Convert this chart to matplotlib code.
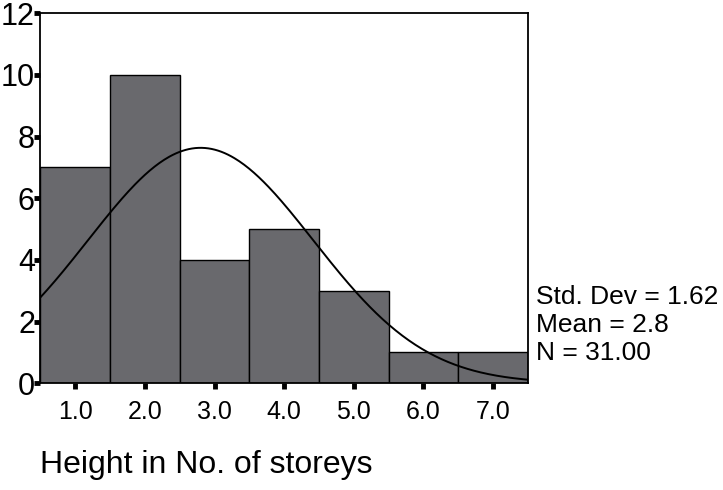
import numpy as np
import matplotlib.pyplot as plt

plt.rcParams["font.family"] = ["Liberation Sans", "DejaVu Sans"]

storeys = [1, 2, 3, 4, 5, 6, 7]
counts = [7, 10, 4, 5, 3, 1, 1]
x_ticks = [1.0, 2.0, 3.0, 4.0, 5.0, 6.0, 7.0]
y_ticks = [0, 2, 4, 6, 8, 10, 12]

std_dev = 1.62
mean = 2.8
n = 31.00

fig = plt.figure(figsize=(7.23, 4.9), dpi=100)
ax = fig.add_axes([0.056, 0.218, 0.674, 0.755])

ax.bar(storeys, counts, width=1.0, color="#69696d", edgecolor="black", linewidth=1.0)

# fitted normal curve, scaled to counts (bin width 1)
xs = np.linspace(0.5, 7.5, 300)
ys = n * np.exp(-0.5 * ((xs - mean) / std_dev) ** 2) / (std_dev * np.sqrt(2 * np.pi))
ax.plot(xs, ys, color="black", linewidth=1.4)

ax.set_xlim(0.5, 7.5)
ax.set_ylim(0, 12)
ax.set_xticks(x_ticks)
ax.set_xticklabels(["%.1f" % v for v in x_ticks], fontsize=18)
ax.set_yticks(y_ticks)
ax.set_yticklabels([str(v) for v in y_ticks], fontsize=22)
ax.tick_params(axis="both", direction="out", length=4, width=3.5, color="black")
ax.tick_params(axis="x", pad=8)
ax.tick_params(axis="y", pad=0)
for sp in ax.spines.values():
    sp.set_linewidth(1.3)

fig.text(40 / 723, 1 - 465 / 490, "Height in No. of storeys", fontsize=23, va="center", ha="left")

fig.text(0.742, 1 - 297 / 490, "Std. Dev = %.2f" % std_dev, fontsize=19, va="center")
fig.text(0.742, 1 - 325 / 490, "Mean = %.1f" % mean, fontsize=19, va="center")
fig.text(0.742, 1 - 353 / 490, "N = %.2f" % n, fontsize=19, va="center")

fig.savefig("out.png", dpi=100)
